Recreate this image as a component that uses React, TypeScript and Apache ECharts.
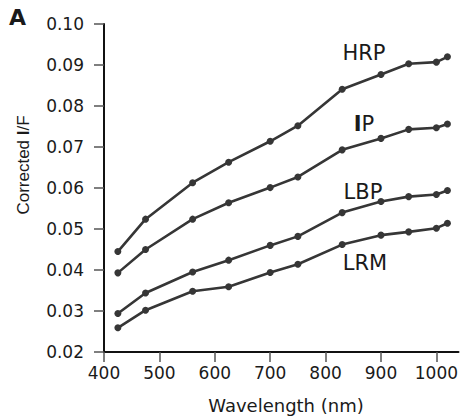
import React, { useEffect, useRef } from "react";
import * as echarts from "echarts";

const wavelengths = [425, 475, 560, 625, 700, 750, 830, 900, 950, 1000, 1020];
const hrp = [0.0445, 0.0524, 0.0613, 0.0663, 0.0714, 0.0752, 0.0841, 0.0877, 0.0903, 0.0907, 0.092];
const ip = [0.0393, 0.045, 0.0524, 0.0564, 0.0601, 0.0627, 0.0693, 0.0721, 0.0743, 0.0747, 0.0756];
const lbp = [0.0294, 0.0344, 0.0395, 0.0424, 0.046, 0.0482, 0.054, 0.0567, 0.0579, 0.0584, 0.0594];
const lrm = [0.0259, 0.0302, 0.0348, 0.0359, 0.0394, 0.0414, 0.0462, 0.0485, 0.0493, 0.0502, 0.0514];
const xTicks = [400, 500, 600, 700, 800, 900, 1000];

const LINE = "#363636";
const TXT = "#1a1a1a";

export default function App() {
  const ref = useRef<HTMLDivElement>(null);
  useEffect(() => {
    if (!ref.current) return;
    const chart = echarts.init(ref.current, null, { renderer: "svg" });
    const mk = (name: string, vals: number[]) => ({
      name,
      type: "line",
      data: wavelengths.map((w, i) => [w, vals[i]]),
      symbol: "circle",
      symbolSize: 7,
      lineStyle: { color: LINE, width: 2.6 },
      itemStyle: { color: LINE },
      z: 3,
    });
    const tickFont = { fontFamily: "DejaVu Sans", fontSize: 17, color: TXT };
    chart.setOption({
      animation: false,
      grid: { left: 104, top: 24, right: 0, bottom: 64 },
      xAxis: {
        type: "value",
        min: 400,
        max: 1040,
        axisLine: { show: true, onZero: false, lineStyle: { color: "#111", width: 2 } },
        axisTick: { show: true, length: 10, customValues: xTicks, lineStyle: { color: "#555", width: 1.5 } },
        axisLabel: { ...tickFont, margin: 12, customValues: xTicks, formatter: (v: number) => String(v) },
        splitLine: { show: false },
      },
      yAxis: {
        type: "value",
        min: 0.02,
        max: 0.1,
        interval: 0.01,
        axisLine: { show: true, onZero: false, lineStyle: { color: "#111", width: 2 } },
        axisTick: { show: true, length: 10, lineStyle: { color: "#555", width: 1.5 } },
        axisLabel: { ...tickFont, margin: 20, formatter: (v: number) => v.toFixed(2) },
        splitLine: { show: false },
      },
      series: [mk("HRP", hrp), mk("IP", ip), mk("LBP", lbp), mk("LRM", lrm)],
      graphic: [
        {
          type: "text",
          left: 9,
          top: 6,
          style: { text: "A", fontFamily: "DejaVu Sans", fontWeight: "bold", fontSize: 22, fill: TXT },
        },
        {
          type: "text",
          x: 23,
          y: 165,
          rotation: Math.PI / 2,
          style: {
            text: "{a|Corrected }{b|I}{a|/F}",
            align: "center",
            verticalAlign: "middle",
            rich: {
              a: { fontFamily: "Liberation Sans", fontSize: 17, fill: TXT },
              b: { fontFamily: "Liberation Sans", fontSize: 17, fontWeight: "bold", fill: TXT },
            },
          },
        },
        {
          type: "text",
          x: 286,
          y: 405,
          style: {
            text: "Wavelength (nm)",
            align: "center",
            verticalAlign: "middle",
            fontFamily: "DejaVu Sans",
            fontSize: 18,
            fill: TXT,
          },
        },
        {
          type: "text",
          x: 364,
          y: 53,
          style: { text: "HRP", align: "center", verticalAlign: "middle", fontFamily: "DejaVu Sans", fontSize: 21, fill: TXT },
        },
        {
          type: "text",
          x: 364,
          y: 124,
          style: {
            text: "{b|I}{a|P}",
            align: "center",
            verticalAlign: "middle",
            rich: {
              a: { fontFamily: "DejaVu Sans", fontSize: 21, fill: TXT },
              b: { fontFamily: "DejaVu Sans", fontSize: 21, fontWeight: "bold", fill: TXT },
            },
          },
        },
        {
          type: "text",
          x: 363,
          y: 192,
          style: { text: "LBP", align: "center", verticalAlign: "middle", fontFamily: "DejaVu Sans", fontSize: 21, fill: TXT },
        },
        {
          type: "text",
          x: 365,
          y: 263,
          style: { text: "LRM", align: "center", verticalAlign: "middle", fontFamily: "DejaVu Sans", fontSize: 21, fill: TXT },
        },
      ],
    });
    return () => chart.dispose();
  }, []);
  return <div ref={ref} style={{ position: "fixed", left: 0, top: 0, width: 461, height: 416, background: "#fff" }} />;
}
